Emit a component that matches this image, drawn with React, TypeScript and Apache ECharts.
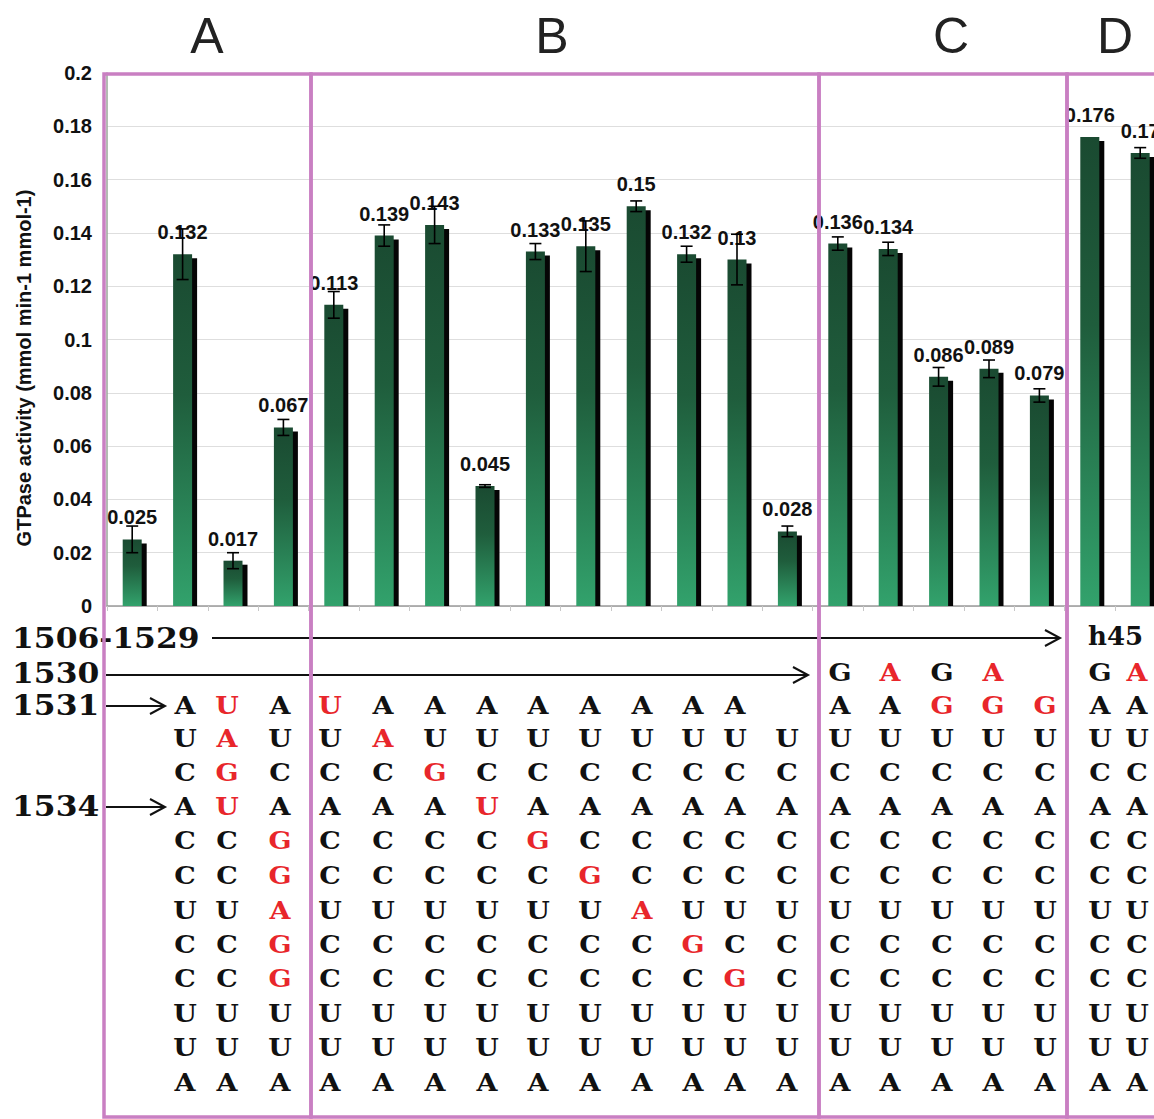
import React, { useEffect, useRef } from 'react';
import * as echarts from 'echarts';

// ---------- DATA ----------
const sectionNames = ['A', 'B', 'C', 'D'];
const barValues = [
  0.025, 0.132, 0.017, 0.067,
  0.113, 0.139, 0.143, 0.045, 0.133, 0.135, 0.15, 0.132, 0.13, 0.028,
  0.136, 0.134, 0.086, 0.089, 0.079,
  0.176, 0.17,
];
const barErrors = [
  0.005, 0.0095, 0.003, 0.003,
  0.005, 0.004, 0.007, 0.0005, 0.003, 0.0095, 0.002, 0.003, 0.0095, 0.002,
  0.0025, 0.0025, 0.0035, 0.0033, 0.0025,
  0, 0.002,
];
const yTicks = [0, 0.02, 0.04, 0.06, 0.08, 0.1, 0.12, 0.14, 0.16, 0.18, 0.2];
const yAxisTitle = 'GTPase activity (mmol min-1 mmol-1)';
const rowLabels = ['1506-1529', '1530', '1531', '1534'];
const helixLabel = 'h45';
// lowercase = mutated (red), space = absent. A/B columns start at 1531, C/D at 1530
const sequencesA = ['AUCACCUCCUUA', 'uaguCCUCCUUA', 'AUCAggaggUUA'];
const sequencesB = [
  'uUCACCUCCUUA', 'AaCACCUCCUUA', 'AUgACCUCCUUA', 'AUCuCCUCCUUA', 'AUCAgCUCCUUA',
  'AUCACgUCCUUA', 'AUCACCaCCUUA', 'AUCACCUgCUUA', 'AUCACCUCgUUA', ' UCACCUCCUUA',
];
const sequencesC = ['GAUCACCUCCUUA', 'aAUCACCUCCUUA', 'GgUCACCUCCUUA', 'agUCACCUCCUUA', ' gUCACCUCCUUA'];
const sequencesD = ['GAUCACCUCCUUA', 'aAUCACCUCCUUA'];

// ---------- LAYOUT ----------
const GRID_LEFT = 107;
const GRID_TOP = 73;
const GRID_H = 533;
const CAT_W = 50.4;
const PINK = '#c97fc2';
const RED = '#e8262b';
const SEQ_FONT = '"DejaVu Serif", "Liberation Serif", serif';
const colXA = [185, 227, 280];
const colXB = [330, 383, 435, 487, 538, 590, 642, 693, 735, 787];
const colXC = [840, 890, 942, 993, 1045];
const colXD = [1100, 1137];
const rowY = [672, 705, 738, 772, 806, 840, 875, 910, 944, 978, 1013, 1047, 1082];
const sectionTitleX = [207, 552, 951, 1115];
const boxes = [
  [104, 311],
  [311, 819],
  [819, 1067],
  [1067, 1190],
];

export default function App() {
  const ref = useRef<HTMLDivElement>(null);

  useEffect(() => {
    const chart = echarts.init(ref.current!, null, { renderer: 'svg' });
    const gradient = new echarts.graphic.LinearGradient(0, 0, 0, 1, [
      { offset: 0, color: '#1a4a31' },
      { offset: 0.4, color: '#1f5d3c' },
      { offset: 1, color: '#32a26c' },
    ]);
    const shadow = { shadowColor: 'rgba(0,0,0,0.35)', shadowBlur: 3, shadowOffsetX: 2, shadowOffsetY: 2 };

    const graphics: any[] = [];
    sectionNames.forEach((s, i) => {
      graphics.push({
        type: 'text', x: sectionTitleX[i], y: 36, z: 50,
        style: { text: s, fontSize: 50, fontFamily: '"Liberation Sans", Arial', fill: '#222', align: 'center', verticalAlign: 'middle' },
      });
    });
    graphics.push({
      type: 'text', x: 24, y: 368, rotation: Math.PI / 2, z: 50,
      style: { text: yAxisTitle, fontSize: 20, fontWeight: 'bold', fontFamily: '"Liberation Sans", Arial', fill: '#111', align: 'center', verticalAlign: 'middle' },
    });
    const labelY = [638, 673, 705, 806];
    rowLabels.forEach((t, i) => {
      graphics.push({
        type: 'text', x: 12, y: labelY[i], scaleX: 1.12, z: 40,
        style: {
          text: t, fontSize: 28, fontWeight: 'bold', fontFamily: SEQ_FONT, fill: '#111',
          align: 'left', verticalAlign: 'middle', ...shadow,
        },
      });
    });
    graphics.push({
      type: 'text', x: 1088, y: 636, scaleX: 1.0, z: 40,
      style: {
        text: helixLabel, fontSize: 26, fontWeight: 'bold', fontFamily: SEQ_FONT, fill: '#111',
        align: 'left', verticalAlign: 'middle', ...shadow,
      },
    });
    const arrow = (x1: number, x2: number, y: number) => {
      graphics.push({ type: 'line', z: 40, shape: { x1, y1: y, x2, y2: y }, style: { stroke: '#111', lineWidth: 2 } });
      graphics.push({
        type: 'polyline', z: 40,
        shape: { points: [[x2 - 15, y - 8], [x2, y], [x2 - 15, y + 8]] },
        style: { stroke: '#111', lineWidth: 2, fill: 'none' },
      });
    };
    arrow(212, 1060, 638);
    arrow(106, 808, 675);
    arrow(106, 165, 706);
    arrow(106, 165, 807);

    const addColumns = (seqs: string[], xs: number[], startRow: number) => {
      seqs.forEach((seq, c) => {
        for (let k = 0; k < seq.length; k++) {
          const ch = seq[k];
          if (ch === ' ') continue;
          const red = ch !== ch.toUpperCase();
          graphics.push({
            type: 'text', x: xs[c], y: rowY[startRow + k], scaleX: 1.08, z: 40,
            style: {
              text: ch.toUpperCase(), fontSize: 25, fontWeight: 'bold', fontFamily: SEQ_FONT,
              fill: red ? RED : '#111', align: 'center', verticalAlign: 'middle', ...shadow,
            },
          });
        }
      });
    };
    addColumns(sequencesA, colXA, 1);
    addColumns(sequencesB, colXB, 1);
    addColumns(sequencesC, colXC, 0);
    addColumns(sequencesD, colXD, 0);

    boxes.forEach(([x0, x1]) => {
      graphics.push({
        type: 'rect', z: 100,
        shape: { x: x0, y: 74, width: x1 - x0, height: 1043 },
        style: { fill: 'none', stroke: PINK, lineWidth: 3.5 },
      });
    });

    const cats = barValues.map((_, i) => String(i));
    const option: any = {
      animation: false,
      backgroundColor: '#fff',
      grid: { left: GRID_LEFT, top: GRID_TOP, width: CAT_W * barValues.length, height: GRID_H, containLabel: false },
      xAxis: {
        type: 'category', data: cats,
        axisLine: { show: true, lineStyle: { color: '#9a9a9a', width: 1.5 } },
        axisTick: { show: true, length: 5, lineStyle: { color: '#c8c8c8' } },
        axisLabel: { show: false },
        splitLine: { show: false },
      },
      yAxis: {
        type: 'value', min: yTicks[0], max: yTicks[yTicks.length - 1], interval: 0.02,
        axisLine: { show: true, lineStyle: { color: '#9aa59a', width: 1.5 } },
        axisTick: { show: false },
        axisLabel: {
          margin: 15, fontSize: 20, fontWeight: 'bold', fontFamily: '"Liberation Sans", Arial', color: '#111',
          formatter: (v: number) => String(parseFloat(v.toFixed(3))),
        },
        splitLine: { show: true, lineStyle: { color: '#dedede', width: 1 } },
      },
      series: [
        {
          type: 'custom',
          data: barValues.map((v, i) => [i, v, barErrors[i]]),
          encode: { x: 0, y: 1 },
          clip: false,
          renderItem: (params: any, api: any) => {
            const i = api.value(0);
            const v = api.value(1);
            const e = api.value(2);
            const [cx, top] = api.coord([i, v]);
            const base = api.coord([i, 0])[1];
            const eTop = api.coord([i, v + e])[1];
            const eBot = api.coord([i, v - e])[1];
            const bw = 19;
            const children: any[] = [
              { type: 'rect', shape: { x: cx - bw / 2 + 5, y: top + 4, width: bw, height: base - top - 4 }, style: { fill: '#050505' } },
              { type: 'rect', shape: { x: cx - bw / 2, y: top, width: bw, height: base - top }, style: { fill: gradient } },
              {
                type: 'text', x: cx, y: top - 22,
                style: { text: String(v), fontSize: 20, fontWeight: 'bold', fontFamily: '"Liberation Sans", Arial', fill: '#111', align: 'center', verticalAlign: 'middle' },
              },
            ];
            if (e > 0) {
              children.push({ type: 'line', shape: { x1: cx, y1: eTop, x2: cx, y2: eBot }, style: { stroke: '#000', lineWidth: 1.6 } });
              children.push({ type: 'line', shape: { x1: cx - 6, y1: eTop, x2: cx + 6, y2: eTop }, style: { stroke: '#000', lineWidth: 1.6 } });
              children.push({ type: 'line', shape: { x1: cx - 6, y1: eBot, x2: cx + 6, y2: eBot }, style: { stroke: '#000', lineWidth: 1.6 } });
            }
            return { type: 'group', children };
          },
        },
      ],
      graphic: { elements: graphics },
    };
    chart.setOption(option);
    return () => chart.dispose();
  }, []);

  return (
    <div style={{ position: 'absolute', left: 0, top: 0, width: 1154, height: 1119, overflow: 'hidden', background: '#fff' }}>
      <div ref={ref} style={{ width: 1190, height: 1119 }} />
    </div>
  );
}
